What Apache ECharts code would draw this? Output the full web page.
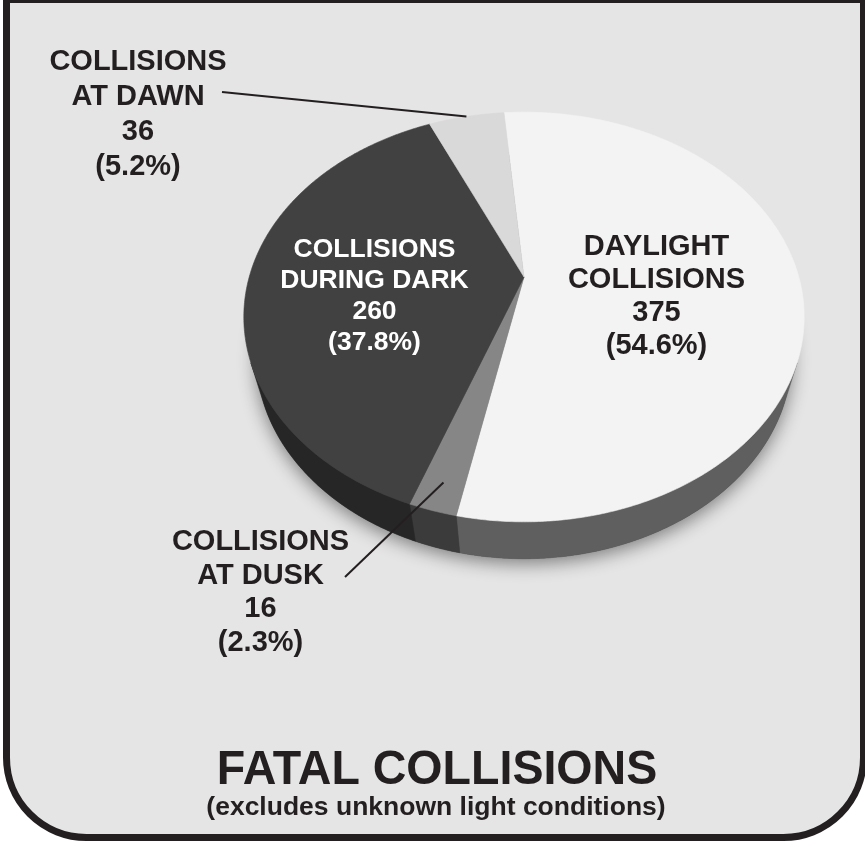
<!DOCTYPE html>
<html>
<head>
<meta charset="utf-8">
<script src="https://cdn.jsdelivr.net/npm/echarts@6/dist/echarts.min.js"></script>
<style>
  html, body { margin: 0; padding: 0; background: #ffffff; }
  #chart { width: 865px; height: 841px; }
</style>
</head>
<body>
<div id="chart"></div>
<script>
// Light-condition categories, clockwise from the back of the pie
const categories = ['DAYLIGHT\nCOLLISIONS', 'COLLISIONS\nAT DUSK', 'COLLISIONS\nDURING DARK', 'COLLISIONS\nAT DAWN'];
const counts = [375, 16, 260, 36];
const titleText = 'FATAL COLLISIONS';
const subtitleText = '(excludes unknown light conditions)';

// Slice colours: top face, outer wall, label text
const topColors = ['#f3f3f3', '#868686', '#414141', '#d9d9d9'];
const wallColors = ['#5f5f5f', '#3b3b3b', '#262626', '#4a4a4a'];
const labelColors = ['#231f20', '#231f20', '#ffffff', '#231f20'];

const FONT = '"Liberation Sans", Arial, Helvetica, sans-serif';

// Camera looking down on the disc (unit radius) with perspective
const view = {
  cx: 524, cy: 277,          // screen position of the disc centre
  f: 981,                    // focal length in px
  dist: 3.57,                // camera distance in disc radii
  elev: 45.8 * Math.PI / 180,
  depth: 0.22,               // disc thickness in radii
  startDeg: -5               // first slice starts here, clockwise from the back
};

// Label blocks: centre x, cap top of first line, font size, line height;
// optional leader line from a point next to the text to the slice
const labelLayout = [
  { x: 656.5, top: 237, size: 29, lh: 33 },
  { x: 260.5, top: 532, size: 29, lh: 33.5, leader: [345, 577], leaderR: 0.9 },
  { x: 374.5, top: 240, size: 26.5, lh: 31 },
  { x: 138, top: 52, size: 29, lh: 35, leader: [222, 92], leaderR: 1.0 }
];

const total = counts.reduce((a, b) => a + b, 0);
const cumStart = [];
counts.reduce((acc, v) => { cumStart.push(acc); return acc + v; }, 0);

function project(thetaDeg, r, y) {
  const t = thetaDeg * Math.PI / 180;
  const X = r * Math.sin(t), Z = r * Math.cos(t);
  const s = Math.sin(view.elev), c = Math.cos(view.elev);
  const yc = Z * s + y * c;
  const zc = view.dist + Z * c - y * s;
  return [view.cx + view.f * X / zc, view.cy - view.f * yc / zc];
}

function arc(a, b, y) {
  const pts = [];
  const n = Math.max(2, Math.ceil((b - a) / 0.5));
  for (let k = 0; k <= n; k++) pts.push(project(a + (b - a) * k / n, 1, y));
  return pts;
}

// Outer wall faces the camera where cos(theta) < -1 / (dist * cos(elev))
const wallLimit = Math.acos(-1 / (view.dist * Math.cos(view.elev))) * 180 / Math.PI;

function renderSlice(params, api) {
  const i = params.dataIndex;
  const v = api.value(0);
  const a = view.startDeg + 360 * cumStart[i] / total;
  const b = a + 360 * v / total;
  const children = [];

  if (i === 0) {
    // soft shadow under the whole disc
    children.push({
      type: 'polygon', z2: 0,
      shape: { points: arc(0, 360, -view.depth) },
      style: { fill: '#444444', shadowBlur: 18, shadowOffsetY: 5, shadowColor: 'rgba(0,0,0,0.45)' }
    });
  }

  const wa = Math.max(a, wallLimit), wb = Math.min(b, 360 - wallLimit);
  if (wb > wa) {
    const top = arc(wa, wb, 0);
    const bottom = arc(wa, wb, -view.depth).reverse();
    children.push({
      type: 'polygon', z2: 2,
      shape: { points: top.concat(bottom) },
      style: { fill: wallColors[i], stroke: wallColors[i], lineWidth: 0.6 }
    });
  }

  const face = [project(0, 0, 0)].concat(arc(a, b, 0));
  children.push({
    type: 'polygon', z2: 5,
    shape: { points: face },
    style: { fill: topColors[i], stroke: topColors[i], lineWidth: 0.6, lineJoin: 'round' }
  });

  const L = labelLayout[i];
  const pct = (v / total * 100).toFixed(1);
  children.push({
    type: 'text', z2: 20,
    x: L.x,
    y: L.top + 0.358 * L.size - L.lh / 2,
    style: {
      text: categories[i] + '\n' + v + '\n(' + pct + '%)',
      fill: labelColors[i],
      fontFamily: FONT, fontWeight: 'bold', fontSize: L.size,
      lineHeight: L.lh,
      align: 'center', verticalAlign: 'top'
    }
  });

  if (L.leader) {
    const end = project((a + b) / 2, L.leaderR, 0);
    children.push({
      type: 'line', z2: 20,
      shape: { x1: L.leader[0], y1: L.leader[1], x2: end[0], y2: end[1] },
      style: { stroke: '#231f20', lineWidth: 2 }
    });
  }

  return { type: 'group', children };
}

const chart = echarts.init(document.getElementById('chart'), null, { renderer: 'canvas' });
chart.setOption({
  animation: false,
  backgroundColor: '#ffffff',
  graphic: [
    {
      type: 'rect', z: -10, silent: true,
      shape: { x: 6.5, y: -0.5, width: 857, height: 838, r: [0, 0, 80, 80] },
      style: { fill: '#e5e5e5', stroke: '#231f20', lineWidth: 7 }
    },
    {
      type: 'text', z: 10, x: 437, y: 770, scaleX: 0.95,
      style: {
        text: titleText, fill: '#231f20',
        fontFamily: FONT, fontWeight: 'bold', fontSize: 49,
        align: 'center', verticalAlign: 'middle'
      }
    },
    {
      type: 'text', z: 10, x: 436, y: 808,
      style: {
        text: subtitleText, fill: '#231f20',
        fontFamily: FONT, fontWeight: 'bold', fontSize: 26.5,
        align: 'center', verticalAlign: 'middle'
      }
    }
  ],
  series: [{
    type: 'custom',
    coordinateSystem: 'none',
    silent: true,
    data: counts.map(v => [v]),
    renderItem: renderSlice
  }]
});
</script>
</body>
</html>
